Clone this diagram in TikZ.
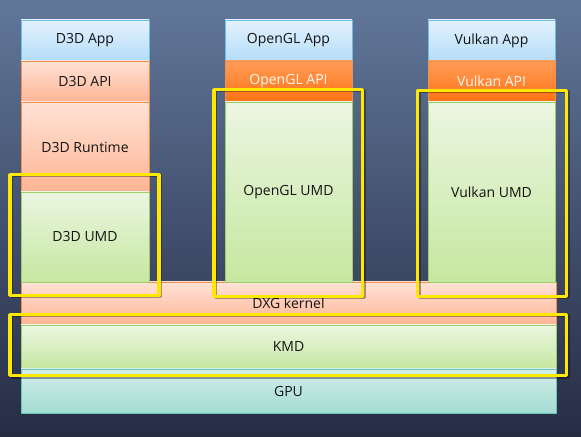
\documentclass[tikz,border=0pt]{standalone}
\usepackage{fontspec}
\setmainfont{Open Sans}
\usetikzlibrary{shadows}
\definecolor{bgtop}{HTML}{61779A}
\definecolor{bgmid}{HTML}{6C84A1}
\definecolor{bgbot}{HTML}{262C44}
\definecolor{appline}{HTML}{6CBDE8}
\definecolor{apptop}{HTML}{E4F2FD}
\definecolor{appbot}{HTML}{B4DCF9}
\definecolor{peachline}{HTML}{F0904A}
\definecolor{peachtop}{HTML}{FFE2D6}
\definecolor{peachbot}{HTML}{FFB594}
\definecolor{orangetop}{HTML}{FF9C58}
\definecolor{orangebot}{HTML}{FF7212}
\definecolor{greenline}{HTML}{9CCC6C}
\definecolor{greentop}{HTML}{EBF6E1}
\definecolor{greenbot}{HTML}{C6E7A0}
\definecolor{gpuline}{HTML}{6CC4B8}
\definecolor{gputop}{HTML}{D4EEEA}
\definecolor{gpubot}{HTML}{A2DCD2}
\definecolor{hlyellow}{HTML}{FFE800}
\begin{document}
\begin{tikzpicture}[>=latex,line join=bevel,
  layer/.style={draw,line width=0.8bp,inner sep=0pt,font=\fontsize{14bp}{16bp}\selectfont,
    text=black!92,drop shadow={opacity=0.35,shadow xshift=1.2bp,shadow yshift=-1.2bp}},
  app/.style={layer,draw=appline,top color=apptop,bottom color=appbot},
  softapi/.style={layer,draw=peachline,top color=peachtop,bottom color=peachbot},
  hardapi/.style={layer,draw=peachline,top color=orangetop,bottom color=orangebot,text=white!95!orange},
  umd/.style={layer,draw=greenline,top color=greentop,bottom color=greenbot},
  gpu/.style={layer,draw=gpuline,top color=gputop,bottom color=gpubot},
  highlight/.style={draw=hlyellow,line width=3.3bp,inner sep=0pt,
    preaction={draw=black,draw opacity=0.35,line width=3.3bp,
      transform canvas={xshift=1.5bp,yshift=-1.5bp}}},
]
  \useasboundingbox (0bp,0bp) rectangle (581bp,437bp);
%%
  % Background
  \shade [top color=bgtop,middle color=bgmid,bottom color=bgbot] (0bp,0bp) rectangle (581bp,437bp);
  % Node: DXG kernel
  \node (dxg) at (288.5bp,133.5bp) [softapi,minimum width=535bp,minimum height=43bp] {DXG kernel};
  % Node: KMD
  \node (kmd) at (288.5bp,90bp) [umd,minimum width=535bp,minimum height=44bp] {KMD};
  % Node: GPU
  \node (gpu) at (288.5bp,46bp) [gpu,minimum width=535bp,minimum height=44bp] {GPU};
  % Column: D3D
  \node (d3dapp) at (85bp,396.5bp) [app,minimum width=128bp,minimum height=41bp] {D3D App};
  \node (d3dapi) at (85bp,355.5bp) [softapi,minimum width=128bp,minimum height=41bp] {D3D API};
  \node (d3drt) at (85bp,290bp) [softapi,minimum width=128bp,minimum height=90bp] {D3D Runtime};
  \node (d3dumd) at (85bp,200bp) [umd,minimum width=128bp,minimum height=90bp] {D3D UMD};
  % Column: OpenGL
  \node (oglapp) at (288.5bp,396.5bp) [app,minimum width=127bp,minimum height=41bp] {OpenGL App};
  \node (oglapi) at (288.5bp,355.5bp) [hardapi,minimum width=127bp,minimum height=41bp] {OpenGL API};
  \node (oglumd) at (288.5bp,245bp) [umd,minimum width=127bp,minimum height=180bp] {OpenGL UMD};
  % Column: Vulkan
  \node (vkapp) at (491.5bp,396.5bp) [app,minimum width=127bp,minimum height=41bp] {Vulkan App};
  \node (vkapi) at (491.5bp,355.5bp) [hardapi,minimum width=127bp,minimum height=41bp] {Vulkan API};
  \node (vkumd) at (491.5bp,245bp) [umd,minimum width=127bp,minimum height=180bp] {Vulkan UMD};
  % Highlights
  \node (hld3d) at (84.6bp,202.3bp) [highlight,minimum width=149bp,minimum height=121bp] {};
  \node (hlogl) at (288.3bp,244.2bp) [highlight,minimum width=148.7bp,minimum height=207bp] {};
  \node (hlvk) at (492.2bp,243.7bp) [highlight,minimum width=149bp,minimum height=206bp] {};
  \node (hlkmd) at (288.3bp,92.1bp) [highlight,minimum width=556.7bp,minimum height=61.2bp] {};
%
\end{tikzpicture}
\end{document}
